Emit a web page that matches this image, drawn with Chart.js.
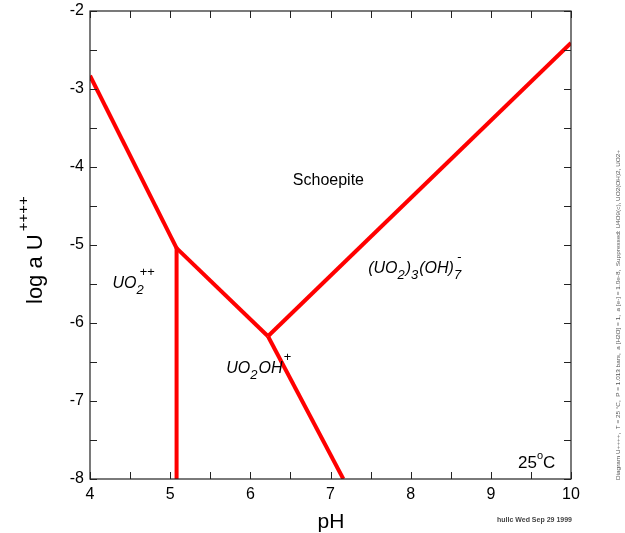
<!DOCTYPE html>
<html>
<head>
<meta charset="utf-8">
<script src="https://cdn.jsdelivr.net/npm/chart.js@4.4.0/dist/chart.umd.min.js"></script>
<style>
  html, body { margin: 0; padding: 0; background: #fff; }
  #wrap { width: 625px; height: 533px; }
</style>
</head>
<body>
<div id="wrap"><canvas id="c" width="625" height="533"></canvas></div>
<script>
// ---- Data ----
const xRange = [4, 10];
const yRange = [-8, -2];
const xTicks = [4, 5, 6, 7, 8, 9, 10];
const yTicks = [-8, -7, -6, -5, -4, -3, -2];

// Field boundaries (pH, log a U++++)
const bUO2_Schoepite_x   = [4.00, 5.08];
const bUO2_Schoepite_y   = [-2.83, -5.04];
const bUO2_UO2OH_x       = [5.08, 5.08];
const bUO2_UO2OH_y       = [-5.04, -8.00];
const bUO2OH_Schoepite_x = [5.08, 6.22];
const bUO2OH_Schoepite_y = [-5.04, -6.17];
const bSchoepite_Hyd_x   = [6.22, 10.00];
const bSchoepite_Hyd_y   = [-6.17, -2.41];
const bUO2OH_Hyd_x       = [6.22, 7.16];
const bUO2OH_Hyd_y       = [-6.17, -8.00];

// Field labels: left edge / baseline in (pH, log a)
const fieldLabels = [
  { x: 6.53, y: -4.23, parts: [{t: 'Schoepite'}], italic: false },
  { x: 4.28, y: -5.55, parts: [{t: 'UO'}, {t: '2', s: 'subsup', sup: '++'}], italic: true },
  { x: 5.70, y: -6.64, parts: [{t: 'UO'}, {t: '2', s: 'sub'}, {t: 'OH'}, {t: '+', s: 'sup'}], italic: true },
  { x: 7.47, y: -5.36, parts: [{t: '(UO'}, {t: '2', s: 'sub'}, {t: ')'}, {t: '3', s: 'sub'}, {t: '(OH)'}, {t: '7', s: 'subsup', sup: '-'}], italic: true },
];

function seg(xs, ys) { return xs.map((x, i) => ({ x: x, y: ys[i] })); }

const boundaries = [
  seg(bUO2_Schoepite_x, bUO2_Schoepite_y),
  seg(bUO2_UO2OH_x, bUO2_UO2OH_y),
  seg(bUO2OH_Schoepite_x, bUO2OH_Schoepite_y),
  seg(bSchoepite_Hyd_x, bSchoepite_Hyd_y),
  seg(bUO2OH_Hyd_x, bUO2OH_Hyd_y),
];

const FONT = '"Liberation Sans", Arial, sans-serif';

function drawRich(ctx, parts, x, y, size, italic) {
  const base = (italic ? 'italic ' : '') + size + 'px ' + FONT;
  const small = (italic ? 'italic ' : '') + Math.round(size * 0.8) + 'px ' + FONT;
  let cx = x;
  ctx.textBaseline = 'alphabetic';
  ctx.textAlign = 'left';
  parts.forEach(p => {
    if (!p.s) {
      ctx.font = base; ctx.fillText(p.t, cx, y); cx += ctx.measureText(p.t).width;
    } else if (p.s === 'sub') {
      ctx.font = small; ctx.fillText(p.t, cx, y + size * 0.38); cx += ctx.measureText(p.t).width + 1;
    } else if (p.s === 'sup') {
      ctx.font = small; ctx.fillText(p.t, cx + 1, y - size * 0.75); cx += ctx.measureText(p.t).width + 1;
    } else if (p.s === 'subsup') {
      ctx.font = small; ctx.fillText(p.t, cx, y + size * 0.38);
      ctx.fillText(p.sup, cx + 3, y - size * 0.75);
      cx += ctx.measureText(p.t).width;
    }
  });
}

const framePlugin = {
  id: 'frame',
  afterDatasetsDraw(chart) {
    const ctx = chart.ctx;
    const a = chart.chartArea;
    const xs = chart.scales.x, ys = chart.scales.y;
    ctx.save();
    ctx.strokeStyle = '#222';
    ctx.lineWidth = 1.2;
    ctx.strokeRect(a.left, a.top, a.right - a.left, a.bottom - a.top);
    ctx.lineWidth = 1;
    const tl = 7;
    ctx.beginPath();
    for (let v = xRange[0]; v <= xRange[1] + 1e-9; v += 0.5) {
      const px = Math.round(xs.getPixelForValue(v)) + 0.5;
      ctx.moveTo(px, a.bottom); ctx.lineTo(px, a.bottom - tl);
      ctx.moveTo(px, a.top); ctx.lineTo(px, a.top + tl);
    }
    for (let v = yRange[0]; v <= yRange[1] + 1e-9; v += 0.5) {
      const py = Math.round(ys.getPixelForValue(v)) + 0.5;
      ctx.moveTo(a.left, py); ctx.lineTo(a.left + tl, py);
      ctx.moveTo(a.right, py); ctx.lineTo(a.right - tl, py);
    }
    ctx.stroke();

    // field labels
    ctx.fillStyle = '#000';
    fieldLabels.forEach(l => {
      const px = xs.getPixelForValue(l.x), py = ys.getPixelForValue(l.y);
      drawRich(ctx, l.parts, px, py, 16, l.italic);
    });

    // 25°C
    ctx.font = '17px ' + FONT;
    ctx.textAlign = 'left';
    ctx.fillText('25', 518, 468);
    let w = ctx.measureText('25').width;
    ctx.font = '11px ' + FONT;
    ctx.fillText('o', 518 + w, 459);
    let w2 = ctx.measureText('o').width;
    ctx.font = '17px ' + FONT;
    ctx.fillText('C', 518 + w + w2, 468);

    // axis titles
    ctx.font = '21px ' + FONT;
    ctx.textAlign = 'center';
    ctx.fillText('pH', 331, 528);

    ctx.save();
    ctx.translate(42, 304);
    ctx.rotate(-Math.PI / 2);
    ctx.textAlign = 'left';
    ctx.font = '22px ' + FONT;
    ctx.fillText('log a U', 0, 0);
    const lw = ctx.measureText('log a U').width;
    ctx.font = '15px ' + FONT;
    ctx.fillText('++++', lw + 3, -14);
    ctx.restore();

    // credits
    ctx.fillStyle = '#444';
    ctx.font = 'bold 7px ' + FONT;
    ctx.textAlign = 'left';
    ctx.fillText('hullc Wed Sep 29 1999', 497, 522);

    ctx.save();
    ctx.translate(620, 480);
    ctx.rotate(-Math.PI / 2);
    ctx.font = '6px ' + FONT;
    ctx.fillStyle = '#555';
    const note = 'Diagram U++++,  T = 25 °C,  P = 1.013 bars,  a [H2O] = 1,  a [e-] = 1.0e-8,  Suppressed: U4O9(c), UO2(OH)2, UO2+';
    const nw = ctx.measureText(note).width;
    ctx.scale(330 / nw, 1);
    ctx.fillText(note, 0, 0);
    ctx.restore();

    ctx.restore();
  }
};

new Chart(document.getElementById('c'), {
  type: 'scatter',
  data: {
    datasets: boundaries.map(d => ({
      data: d,
      showLine: true,
      borderColor: '#ff0000',
      backgroundColor: '#ff0000',
      borderWidth: 4,
      pointRadius: 0,
      fill: false,
      borderCapStyle: 'butt',
      borderJoinStyle: 'round'
    }))
  },
  options: {
    responsive: false,
    animation: false,
    layout: { padding: { top: 11, right: 54, left: 0, bottom: 0 } },
    plugins: { legend: { display: false }, tooltip: { enabled: false } },
    scales: {
      x: {
        type: 'linear', min: xRange[0], max: xRange[1],
        afterBuildTicks: s => { s.ticks = xTicks.map(v => ({ value: v })); },
        ticks: { color: '#000', font: { size: 16, family: FONT }, padding: 6, maxRotation: 0 },
        grid: { display: false, drawTicks: false },
        border: { display: false },
        afterFit: s => { s.height = 54; s.paddingLeft = 0; s.paddingRight = 0; }
      },
      y: {
        type: 'linear', min: yRange[0], max: yRange[1],
        afterBuildTicks: s => { s.ticks = yTicks.map(v => ({ value: v })); },
        ticks: { color: '#000', font: { size: 16, family: FONT }, padding: 6 },
        grid: { display: false, drawTicks: false },
        border: { display: false },
        afterFit: s => { s.width = 90; s.paddingTop = 0; s.paddingBottom = 0; }
      }
    }
  },
  plugins: [framePlugin]
});
</script>
</body>
</html>
